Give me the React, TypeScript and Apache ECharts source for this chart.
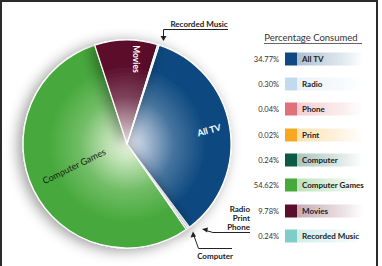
import React, { useEffect, useRef } from "react";
import * as echarts from "echarts";

// Share of time consumed per media type (percent)
const categories = ["All TV", "Radio", "Phone", "Print", "Computer", "Computer Games", "Movies", "Recorded Music"];
const percentages = [34.77, 0.3, 0.04, 0.02, 0.24, 54.62, 9.78, 0.24];
const percentLabels = ["34.77%", "0.30%", "0.04%", "0.02%", "0.24%", "54.62%", "9.78%", "0.24%"];
const colors = ["#0e4a80", "#c3d9ee", "#e0707c", "#f6a821", "#0b5a43", "#47a93c", "#5b0e2b", "#80ccc6"];
const centerTints = ["#eef0f8", "#ffffff", "#fff2f3", "#fff8ea", "#e6f2ec", "#f2f9e8", "#f0e6ea", "#f0faf9"];

const CX = 127;
const CY = 144;
const R = 104;
const FONT = "Lato, 'Open Sans', sans-serif";

function hexToRgba(hex: string, a: number) {
  const n = parseInt(hex.slice(1), 16);
  return `rgba(${(n >> 16) & 255},${(n >> 8) & 255},${n & 255},${a})`;
}

export default function App() {
  const ref = useRef<HTMLDivElement>(null);

  useEffect(() => {
    if (!ref.current) return;
    const chart = echarts.init(ref.current, undefined, { renderer: "svg" });

    const pieData = categories.map((name, i) => ({
      name,
      value: percentages[i],
      itemStyle: {
        color: new echarts.graphic.RadialGradient(
          CX,
          CY,
          R,
          [
            { offset: 0, color: centerTints[i] },
            { offset: 0.45, color: echarts.color.lerp(0.75, [centerTints[i], colors[i]]) as string },
            { offset: 0.75, color: colors[i] },
            { offset: 1, color: colors[i] },
          ],
          true
        ),
      },
    }));

    // legend rows: value, swatch, fading band, name
    const rowY = [59, 84, 109, 135, 160, 185, 211, 236];
    const legend: any[] = [];
    categories.forEach((name, i) => {
      const y = rowY[i];
      legend.push({
        type: "rect",
        shape: { x: 297, y: y - 6.5, width: 66, height: 13 },
        style: {
          fill: new echarts.graphic.LinearGradient(0, 0, 1, 0, [
            { offset: 0, color: hexToRgba(colors[i], 0.35) },
            { offset: 0.7, color: hexToRgba(colors[i], 0.12) },
            { offset: 1, color: hexToRgba(colors[i], 0) },
          ]),
        },
      });
      legend.push({
        type: "rect",
        shape: { x: 285, y: y - 6.5, width: 12, height: 13 },
        style: { fill: colors[i] },
      });
      legend.push({
        type: "text",
        x: 279,
        y,
        style: {
          text: percentLabels[i],
          font: `7.5px ${FONT}`,
          fill: "#333",
          align: "right",
          verticalAlign: "middle",
        },
      });
      legend.push({
        type: "text",
        x: 302,
        y,
        style: {
          text: name,
          font: `bold 8px ${FONT}`,
          fill: "#222",
          align: "left",
          verticalAlign: "middle",
        },
      });
    });

    const lineStyle = { stroke: "#222", lineWidth: 1, fill: null as any };
    const callouts: any[] = [
      // Recorded Music
      { type: "text", x: 199, y: 24, style: { text: "Recorded Music", font: `bold 8px ${FONT}`, fill: "#222", align: "center", verticalAlign: "middle" } },
      { type: "polyline", shape: { points: [[228, 29.5], [163.5, 29.5], [163.5, 37]] }, style: lineStyle },
      { type: "polygon", shape: { points: [[160.5, 36], [166.5, 36], [163.5, 41]] }, style: { fill: "#222" } },
      // Radio / Print / Phone
      { type: "text", x: 250, y: 209, style: { text: "Radio", font: `bold 8px ${FONT}`, fill: "#222", align: "right", verticalAlign: "middle" } },
      { type: "text", x: 250, y: 218, style: { text: "Print", font: `bold 8px ${FONT}`, fill: "#222", align: "right", verticalAlign: "middle" } },
      { type: "text", x: 250, y: 227, style: { text: "Phone", font: `bold 8px ${FONT}`, fill: "#222", align: "right", verticalAlign: "middle" } },
      { type: "polyline", shape: { points: [[206, 230.5], [213, 232.5], [250, 232.5]] }, style: lineStyle },
      { type: "polygon", shape: { points: [[202, 229], [208, 227.5], [207, 232.5]] }, style: { fill: "#222" } },
      // Computer
      { type: "text", x: 215, y: 256, style: { text: "Computer", font: `bold 8px ${FONT}`, fill: "#222", align: "center", verticalAlign: "middle" } },
      { type: "polyline", shape: { points: [[194, 236], [198.5, 248.5], [232, 248.5]] }, style: lineStyle },
      { type: "polygon", shape: { points: [[193, 231.5], [190.5, 237.5], [196, 236.5]] }, style: { fill: "#222" } },
    ];

    // names written across the larger slices, drawn above the pie
    const sliceLabels: any[] = [
      { type: "text", z: 100, x: 209, y: 130, rotation: (15 * Math.PI) / 180, style: { text: "All TV", font: `bold 9px ${FONT}`, fill: "#ffffff", align: "center", verticalAlign: "middle" } },
      { type: "text", z: 100, x: 136, y: 59, rotation: -Math.PI / 2, style: { text: "Movies", font: `bold 8.5px ${FONT}`, fill: "#ffffff", align: "center", verticalAlign: "middle" } },
      { type: "text", z: 100, x: 74, y: 166, rotation: (26 * Math.PI) / 180, style: { text: "Computer Games", font: `9px ${FONT}`, fill: "#17240f", align: "center", verticalAlign: "middle" } },
    ];

    chart.setOption({
      animation: false,
      backgroundColor: "#ffffff",
      series: [
        {
          type: "pie",
          center: [CX, CY],
          radius: R,
          startAngle: 72,
          clockwise: true,
          label: { show: false },
          labelLine: { show: false },
          emphasis: { disabled: true },
          itemStyle: {
            borderColor: "#ffffff",
            borderWidth: 1.2,
            shadowBlur: 14,
            shadowColor: "rgba(0,0,0,0.4)",
            shadowOffsetX: -4,
            shadowOffsetY: 2,
          },
          data: pieData,
        },
      ],
      graphic: [
        // frame
        { type: "rect", shape: { x: 1, y: 1, width: 376, height: 270 }, style: { fill: null, stroke: "#2b2b2b", lineWidth: 2 } },
        // legend title
        { type: "text", x: 311, y: 37, style: { text: "Percentage Consumed", font: `9.5px ${FONT}`, fill: "#333", align: "center", verticalAlign: "middle" } },
        { type: "line", shape: { x1: 264, y1: 43.5, x2: 362, y2: 43.5 }, style: { stroke: "#666", lineWidth: 1 } },
        ...legend,
        ...callouts,
        ...sliceLabels,
      ],
    });

    return () => chart.dispose();
  }, []);

  return (
    <div
      ref={ref}
      style={{ position: "absolute", left: 0, top: 0, width: 382, height: 266 }}
    />
  );
}
